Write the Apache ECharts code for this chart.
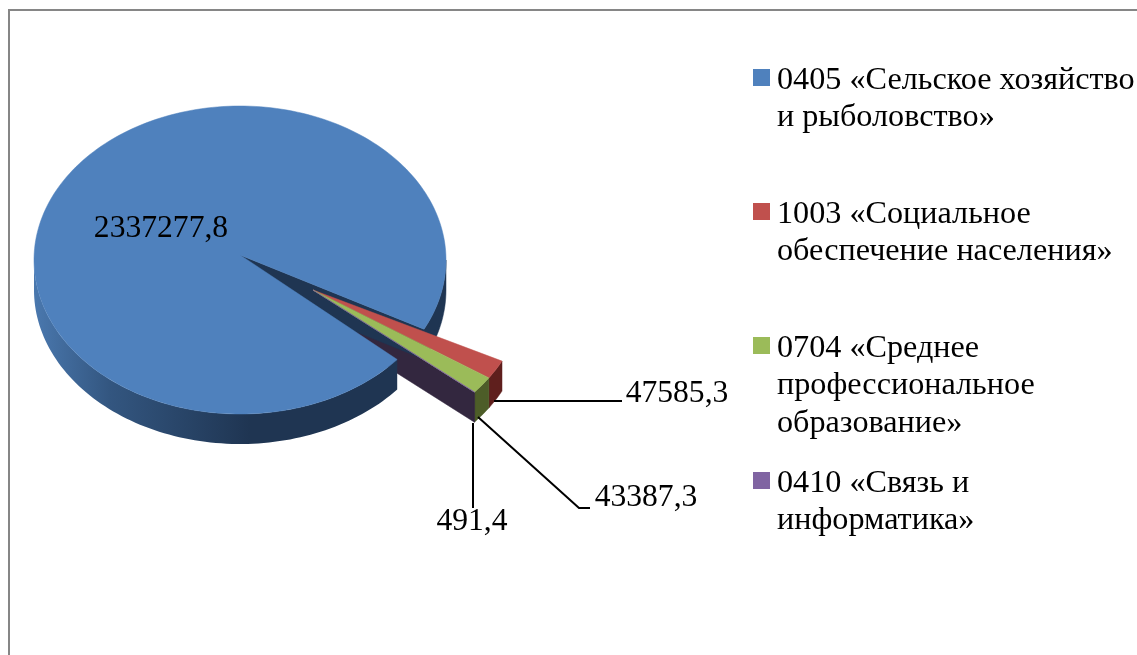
<!DOCTYPE html>
<html><head><meta charset="utf-8">
<style>html,body{margin:0;padding:0;background:#fff}#c{width:1137px;height:655px}</style>
<script src="https://cdn.jsdelivr.net/npm/echarts@6/dist/echarts.min.js"></script>
</head><body><div id="c"></div>
<script>
const categories = [
  '0405 «Сельское хозяйство\nи рыболовство»',
  '1003 «Социальное\nобеспечение населения»',
  '0704 «Среднее\nпрофессиональное\nобразование»',
  '0410 «Связь и\nинформатика»'
];
const values = [2337277.8, 47585.3, 43387.3, 491.4];
const colors = ['#4f81bd', '#c0504d', '#9bbb59', '#8064a2'];
const sideColors = ['#1f3552', '#5f1f1d', '#4d5d28', '#33273f'];
const legendCenters = [77.5, 211.5, 345.5, 480.5];
const labelBoxes = [[161, 229], [677, 394], [646, 498], [472, 522]];
const leaderLines = [
  null,
  [[494, 401], [622, 401]],
  [[478, 417], [579, 508], [590, 508]],
  [[473, 423], [473, 508]]
];

const FONT = '"Liberation Serif","Times New Roman",serif';
const FS = 32.2, LABEL_FS = 31.6, LH = 37.5, TEXT_DROP = 6;
const C = {x: 240, y: 260, rx: 206, ry: 154, depth: 30, apexDy: -5, startDeg: 26.7,
           wedgeApexX: 313, wedgeApexY: 290, wedgeScale: 1.027};
const total = values.reduce((a, b) => a + b, 0);
const fmt = v => v.toFixed(1).replace('.', ',');
const rad = d => d * Math.PI / 180;

// Cumulative parametric angles: wedge slices run clockwise from startDeg, the big slice takes the rest.
const sweep = values.map(v => v / total * 360);
const ranges = [];
(function () {
  let a = C.startDeg + sweep[1] + sweep[2] + sweep[3];
  ranges[0] = [a, a + sweep[0]];
  let s = C.startDeg;
  for (let i = 1; i < values.length; i++) { ranges[i] = [s, s + sweep[i]]; s += sweep[i]; }
})();

function arc(cx, cy, rx, ry, a0, a1, dy) {
  const n = Math.max(2, Math.ceil(Math.abs(a1 - a0) / 1.5));
  const pts = [];
  for (let i = 0; i <= n; i++) {
    const t = rad(a0 + (a1 - a0) * i / n);
    pts.push([cx + rx * Math.cos(t), cy + ry * Math.sin(t) + (dy || 0)]);
  }
  return pts;
}
const poly = (points, fill, z2) => ({type: 'polygon', z2: z2 || 0, silent: true,
  shape: {points}, style: {fill, stroke: typeof fill === 'string' ? fill : null, lineWidth: typeof fill === 'string' ? 0.5 : 0}});

function labelEls(i, val) {
  const els = [];
  const lb = labelBoxes[i];
  els.push({type: 'text', z2: 20, silent: true, x: lb[0], y: lb[1],
    style: {text: fmt(val), font: LABEL_FS + 'px ' + FONT, fill: '#000', align: 'center', verticalAlign: 'middle'}});
  if (leaderLines[i]) els.push({type: 'polyline', z2: 19, silent: true, shape: {points: leaderLines[i]},
    style: {stroke: '#000', lineWidth: 2, fill: null}});
  return els;
}

function renderSlice(idx) {
  return function (params, api) {
    const val = api.value(0);
    const [a0, a1] = ranges[idx];
    let children = [];
    if (idx === 0) {
      const apex = [C.x, C.y + C.apexDy];
      const d = C.depth;
      const grad = {type: 'linear', global: true, x: C.x - C.rx, y: 0, x2: C.x + 10, y2: 0,
        colorStops: [{offset: 0, color: '#4a78ae'}, {offset: 0.35, color: '#335680'}, {offset: 1, color: sideColors[0]}]};
      // outer wall, front half
      const topF = arc(C.x, C.y, C.rx, C.ry, a0, 180, 0);
      const botF = arc(C.x, C.y, C.rx, C.ry, a0, 180, d).reverse();
      children.push(poly(topF.concat(botF), grad, 2));
      // outer wall, right of the cut
      const cutEnd = arc(C.x, C.y, C.rx, C.ry, 0, a1 - 360, 0);
      const cutBot = arc(C.x, C.y, C.rx, C.ry, 0, a1 - 360, d).reverse();
      children.push(poly(cutEnd.concat(cutBot), sideColors[0], 2));
      // inner wall of the cut
      const p = cutEnd[cutEnd.length - 1];
      children.push(poly([apex, p, [p[0], p[1] + d], [apex[0], apex[1] + d]], sideColors[0], 2));
      // top face
      children.push(poly([apex].concat(arc(C.x, C.y, C.rx, C.ry, a0, a1, 0)), colors[0], 3));
    } else {
      const ax = C.wedgeApexX, ay = C.wedgeApexY;
      const rx = C.rx * C.wedgeScale, ry = C.ry * C.wedgeScale, d = C.depth;
      const top = arc(ax, ay, rx, ry, a0, a1, 0);
      const bot = arc(ax, ay, rx, ry, a0, a1, d).reverse();
      children.push(poly(top.concat(bot), sideColors[idx], 5));
      if (idx === values.length - 1) {
        const e = top[top.length - 1];
        // radial wall of the exploded wedge sits beneath the big slice
        children.push(poly([[ax, ay], e, [e[0], e[1] + d], [ax, ay + d]], sideColors[idx], 1));
      }
      children.push(poly([[ax, ay]].concat(top), colors[idx], 6));
    }
    children = children.concat(labelEls(idx, val));
    return {type: 'group', children};
  };
}

const series = categories.map((name, i) => ({
  type: 'custom', name, coordinateSystem: 'none', silent: true, z: 2,
  itemStyle: {color: colors[i]}, data: [[values[i]]], renderItem: renderSlice(i)
}));

const legend = categories.map((name, i) => {
  const lines = name.split('\n').length;
  return {
    data: [name], orient: 'vertical', left: 753, top: legendCenters[i] - LH / 2 + TEXT_DROP / 2, padding: 0,
    icon: 'rect', itemWidth: 17, itemHeight: 17, selectedMode: false,
    formatter: n => n.split('\n').map(l => '{a|' + l + '}').join('\n'),
    textStyle: {
      padding: [LH * (lines - 1) + TEXT_DROP, 0, 0, 2],
      rich: {a: {fontFamily: FONT, fontSize: FS, lineHeight: LH, height: LH, color: '#000'}}
    }
  };
});

const chart = echarts.init(document.getElementById('c'), null, {renderer: 'canvas'});
chart.setOption({
  animation: false, backgroundColor: '#fff', legend, series,
  graphic: [{type: 'polyline', silent: true, shape: {points: [[9, 655], [9, 10], [1137, 10]]},
    style: {stroke: '#868686', lineWidth: 2, fill: null}}]
});
</script></body></html>
